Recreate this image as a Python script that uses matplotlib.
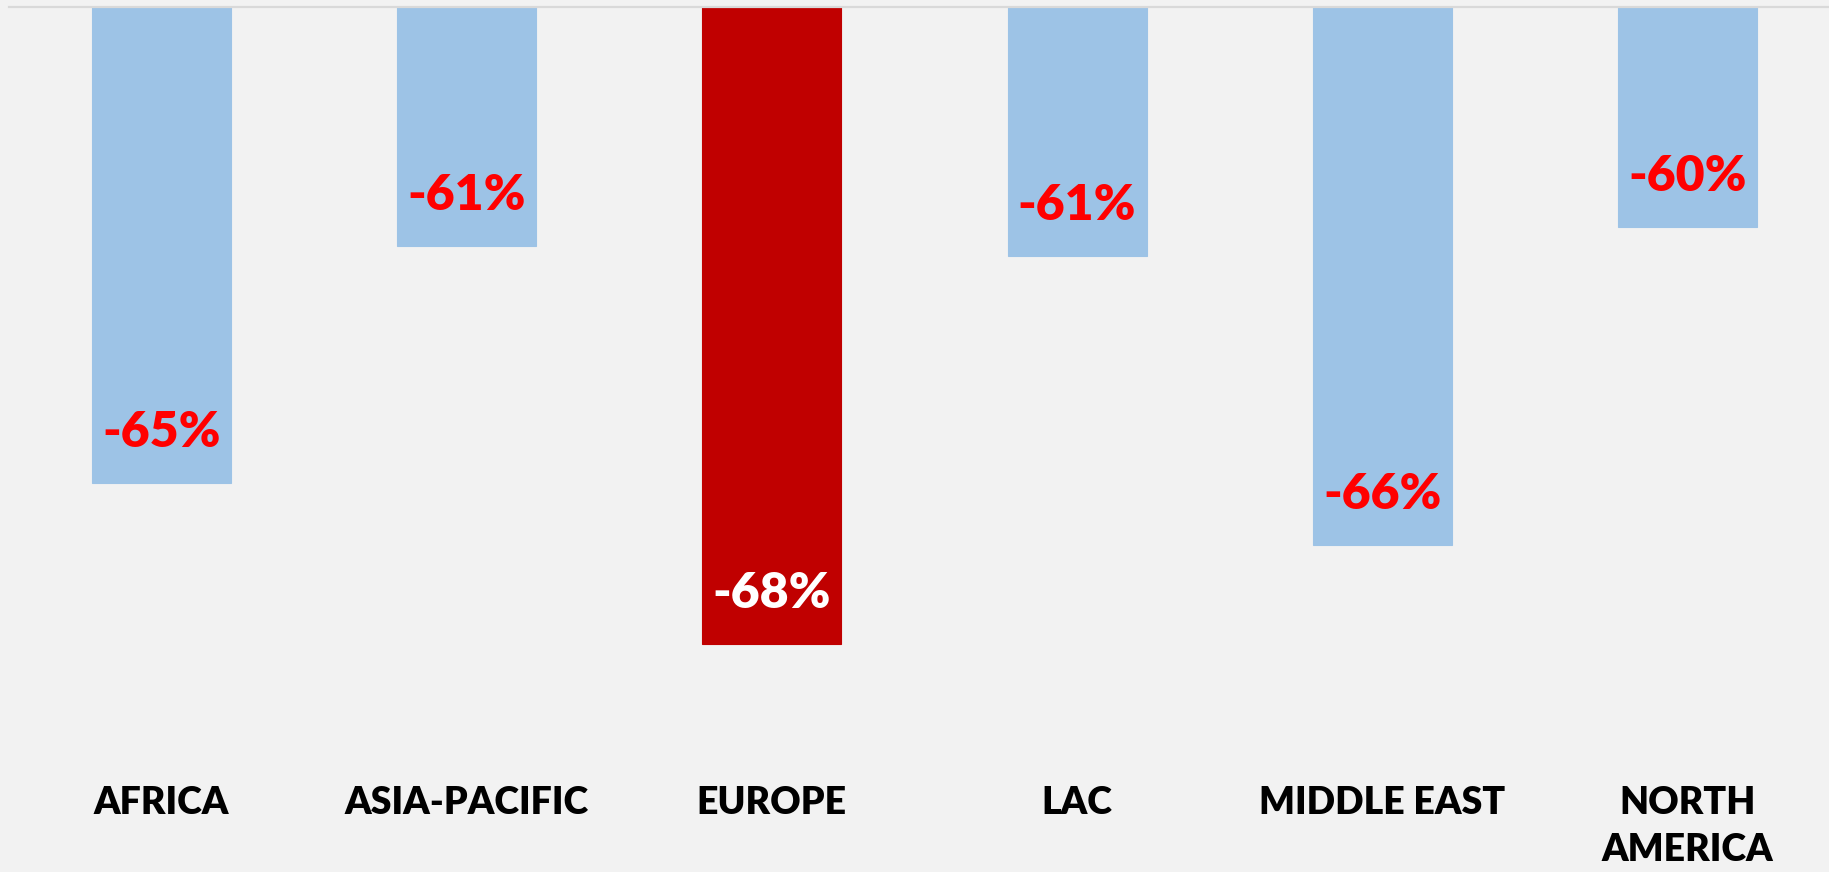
"""
Bar chart of regional change, bars hanging from the top axis line
"""

# Imports
import matplotlib
matplotlib.use('Agg')
import matplotlib.pyplot as plt

# Data (percent change)
regions = ['AFRICA', 'ASIA-PACIFIC', 'EUROPE', 'LAC', 'MIDDLE EAST', 'NORTH\nAMERICA']
change = [-64.98, -60.51, -68.0, -60.70, -66.14, -60.15]
highlight = 'EUROPE'

# Value axis range (bars are drawn from the top of the axis)
axis_top = -56
axis_bottom = -70


def make_chart():
    """
    Draw the bars, value labels and region labels.
    """
    plt.rcParams['font.family'] = ['Lato', 'DejaVu Sans']
    bg = '#F2F2F2'

    fig = plt.figure(figsize=(18.29, 8.72), dpi=100, facecolor=bg)
    ax = fig.add_axes([0.0047, 0.14, 1.0015, 0.8525])
    ax.set_facecolor(bg)

    x = list(range(len(regions)))
    colors = ['#C00000' if r == highlight else '#9DC3E6' for r in regions]
    heights = [v - axis_top for v in change]
    ax.bar(x, heights, bottom=axis_top, width=0.456, color=colors,
           edgecolor=colors, linewidth=0.8)

    # Value labels just inside the end of each bar
    for i, v in enumerate(change):
        col = 'white' if regions[i] == highlight else '#FF0000'
        ax.annotate('{:.0f}%'.format(v), xy=(i, v), xytext=(0, 26),
                    textcoords='offset points', ha='center', va='baseline',
                    fontsize=36, fontweight='heavy', color=col)

    ax.set_xlim(-0.5, len(regions) - 0.5)
    ax.set_ylim(axis_bottom, axis_top)

    # Region names below the plot area
    ax.set_xticks(x)
    ax.set_xticklabels(regions, fontsize=27, fontweight='heavy',
                       color='black', linespacing=1.45)
    ax.tick_params(axis='x', length=0, pad=26)
    ax.set_yticks([])

    # Only the light gray line at the top
    for side in ['left', 'right', 'bottom']:
        ax.spines[side].set_visible(False)
    ax.spines['top'].set_color('#D9D9D9')
    ax.spines['top'].set_linewidth(1.6)

    fig.savefig('out.png', dpi=100, facecolor=bg)


make_chart()
